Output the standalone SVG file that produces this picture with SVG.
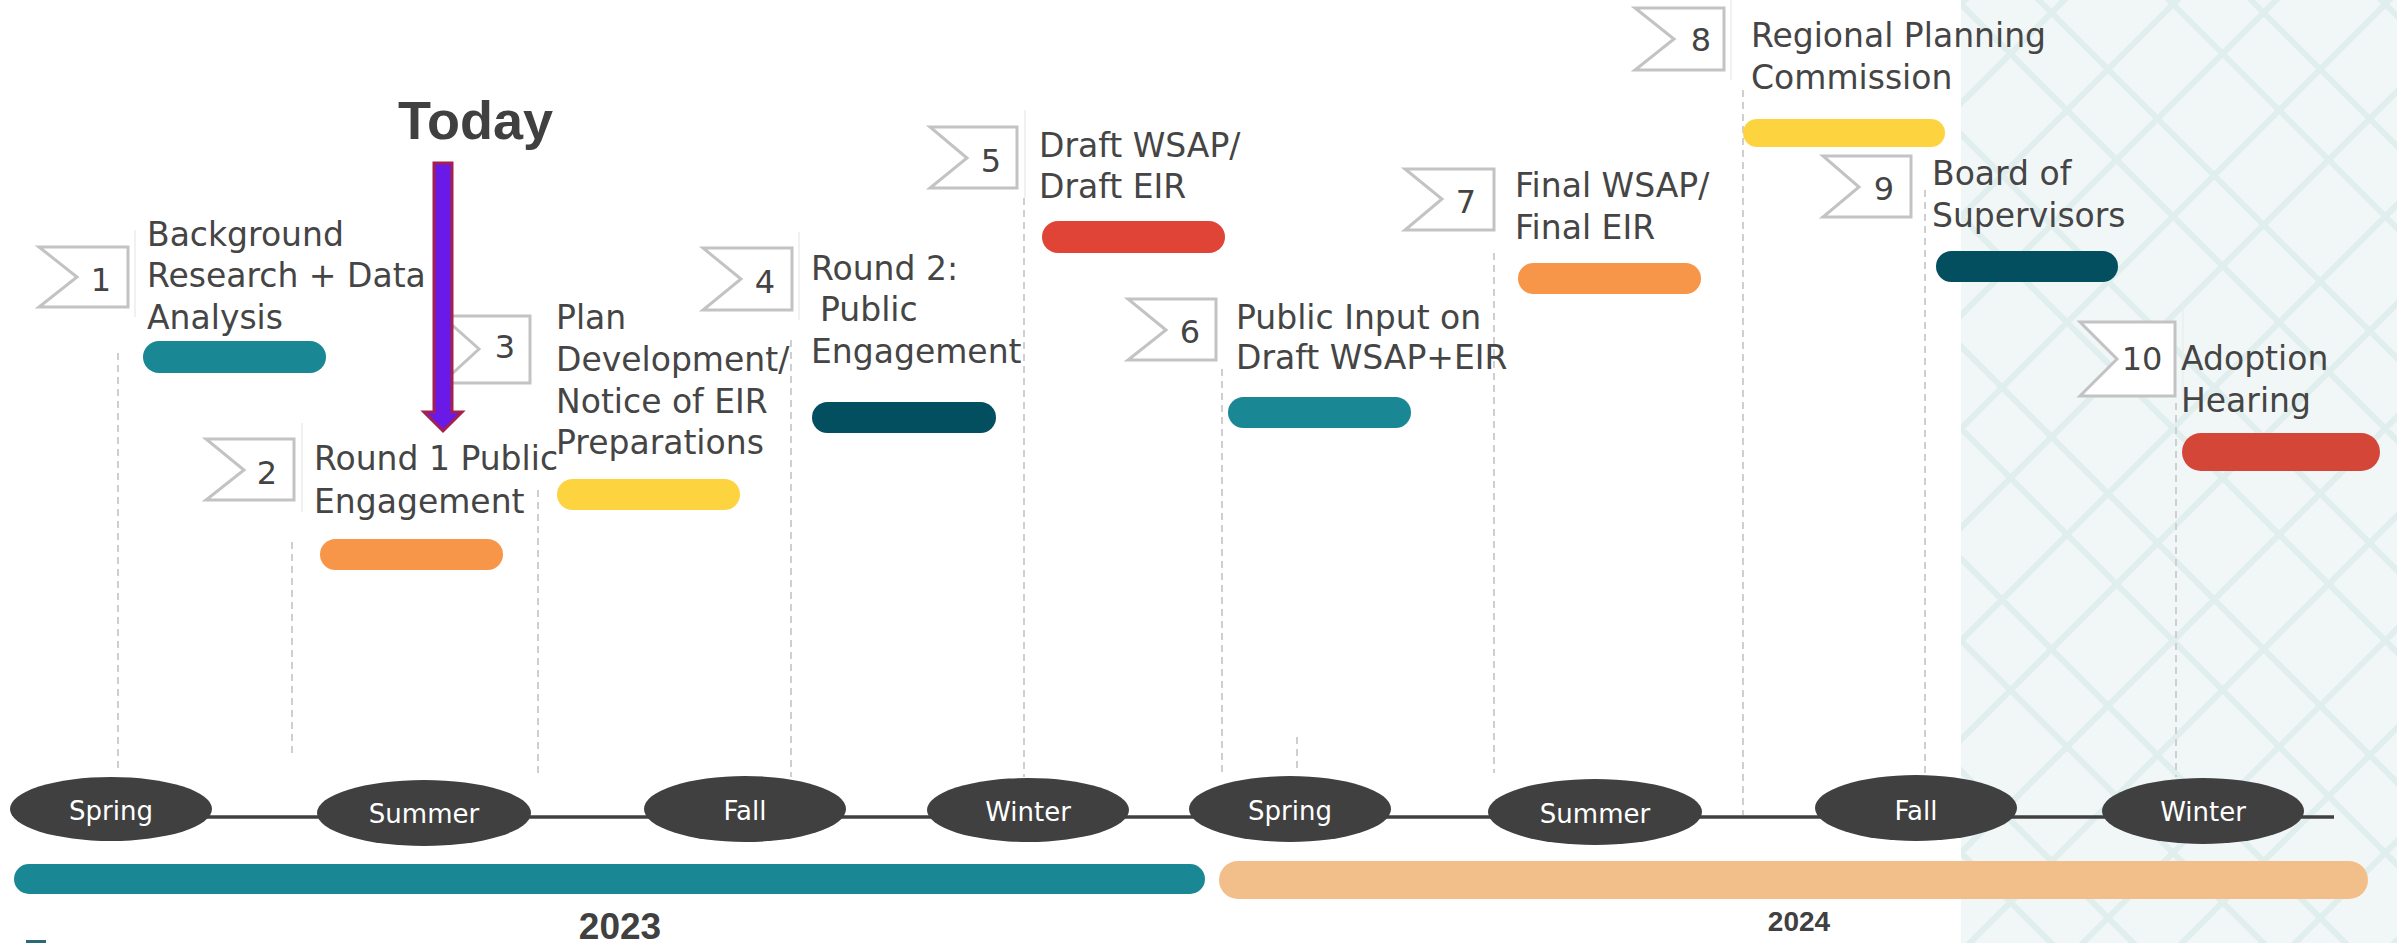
<svg xmlns="http://www.w3.org/2000/svg" width="2397" height="943" viewBox="0 0 2397 943">
<defs>
<pattern id="lattice" width="150" height="150" patternUnits="userSpaceOnUse" patternTransform="translate(1961,0) rotate(45)">
<rect x="0" y="0" width="150" height="150" fill="#f1f7f7"/>
<rect x="0" y="0" width="6" height="150" fill="#e0eeee"/>
<rect x="70" y="0" width="6" height="150" fill="#e0eeee"/>
<rect x="0" y="0" width="150" height="6" fill="#e0eeee"/>
<rect x="0" y="92" width="150" height="6" fill="#e0eeee"/>
</pattern>
</defs>
<style>
.flag{fill:#ffffff;stroke:#c3c3c3;stroke-width:3}
.num{font-family:"DejaVu Sans",sans-serif;font-size:32px;fill:#444444;text-anchor:middle}
.lbl{font-family:"DejaVu Sans",sans-serif;font-size:33px;fill:#454545}
.dash{stroke:#cfcfcf;stroke-width:2;stroke-dasharray:7 5;fill:none}
.faint{stroke:#ececec;stroke-width:1.5;fill:none}
.season{fill:#404040}
.stxt{font-family:"DejaVu Sans",sans-serif;font-size:26px;fill:#ffffff;text-anchor:middle}
.teal{fill:#1a8795}.orange{fill:#f79548}.yellow{fill:#fed340}.dteal{fill:#034e5f}.red{fill:#e04436}
</style>
<rect x="0" y="0" width="2397" height="943" fill="#ffffff"/>
<rect x="1961" y="0" width="436" height="943" fill="url(#lattice)"/>

<g id="connectors">
<line class="faint" x1="135" y1="230" x2="135" y2="317"/>
<line class="faint" x1="302" y1="423" x2="302" y2="512"/>
<line class="faint" x1="799" y1="232" x2="799" y2="320"/>
<line class="faint" x1="1025" y1="110" x2="1025" y2="198"/>
<line class="faint" x1="1731" y1="0" x2="1731" y2="80"/>
<line class="faint" x1="2183" y1="300" x2="2183" y2="400"/>
<line class="dash" x1="118" y1="353" x2="118" y2="772"/>
<line class="dash" x1="292" y1="542" x2="292" y2="755"/>
<line class="dash" x1="538" y1="490" x2="538" y2="778"/>
<line class="dash" x1="791" y1="340" x2="791" y2="777"/>
<line class="dash" x1="1024" y1="198" x2="1024" y2="777"/>
<line class="dash" x1="1222" y1="369" x2="1222" y2="773"/>
<line class="dash" x1="1297" y1="737" x2="1297" y2="773"/>
<line class="dash" x1="1494" y1="253" x2="1494" y2="773"/>
<line class="dash" x1="1743" y1="90" x2="1743" y2="815"/>
<line class="dash" x1="1925" y1="190" x2="1925" y2="775"/>
<line class="dash" x1="2176" y1="403" x2="2176" y2="777"/>
<line x1="205" y1="817" x2="2334" y2="817" stroke="#404040" stroke-width="3.5"/>
</g>

<g id="step1">
<polygon class="flag" points="39,247 128,247 128,307 39,307 77,277"/>
<text class="num" x="101" y="291">1</text>
<text class="lbl"><tspan x="147" y="246">Background</tspan><tspan x="147" y="287">Research + Data</tspan><tspan x="147" y="329">Analysis</tspan></text>
<rect class="teal" x="143" y="341" width="183" height="32" rx="16"/>
</g>

<g id="step2">
<polygon class="flag" points="206,439 294,439 294,500 206,500 244,470"/>
<text class="num" x="267" y="484">2</text>
<text class="lbl"><tspan x="314" y="470">Round 1 Public</tspan><tspan x="314" y="513">Engagement</tspan></text>
<rect class="orange" x="320" y="539" width="183" height="31" rx="15.5"/>
</g>

<g id="step3">
<polygon class="flag" points="442,316 530,316 530,383 442,383 479,349"/>
<text class="num" x="505" y="358">3</text>
<text class="lbl"><tspan x="556" y="329">Plan</tspan><tspan x="556" y="371">Development/</tspan><tspan x="556" y="413">Notice of EIR</tspan><tspan x="556" y="454">Preparations</tspan></text>
<rect class="yellow" x="557" y="479" width="183" height="31" rx="15.5"/>
</g>

<g id="step4">
<polygon class="flag" points="703,248 792,248 792,310 703,310 741,279"/>
<text class="num" x="765" y="293">4</text>
<text class="lbl"><tspan x="811" y="280">Round 2:</tspan><tspan x="820" y="321">Public</tspan><tspan x="811" y="363">Engagement</tspan></text>
<rect class="dteal" x="812" y="402" width="184" height="31" rx="15.5"/>
</g>

<g id="step5">
<polygon class="flag" points="930,127 1017,127 1017,188 930,188 967,158"/>
<text class="num" x="991" y="172">5</text>
<text class="lbl"><tspan x="1039" y="157">Draft WSAP/</tspan><tspan x="1039" y="198">Draft EIR</tspan></text>
<rect class="red" x="1042" y="221" width="183" height="32" rx="16"/>
</g>

<g id="step6">
<polygon class="flag" points="1128,299 1216,299 1216,360 1128,360 1166,330"/>
<text class="num" x="1190" y="343">6</text>
<text class="lbl"><tspan x="1236" y="329">Public Input on</tspan><tspan x="1236" y="369">Draft WSAP+EIR</tspan></text>
<rect class="teal" x="1228" y="397" width="183" height="31" rx="15.5"/>
</g>

<g id="step7">
<polygon class="flag" points="1405,169 1494,169 1494,230 1405,230 1442,199"/>
<text class="num" x="1466" y="213">7</text>
<text class="lbl"><tspan x="1515" y="197">Final WSAP/</tspan><tspan x="1515" y="239">Final EIR</tspan></text>
<rect class="orange" x="1518" y="263" width="183" height="31" rx="15.5"/>
</g>

<g id="step8">
<polygon class="flag" points="1635,8 1724,8 1724,70 1635,70 1674,39"/>
<text class="num" x="1701" y="51">8</text>
<text class="lbl"><tspan x="1751" y="47">Regional Planning</tspan><tspan x="1751" y="89">Commission</tspan></text>
<rect class="yellow" x="1743" y="119" width="202" height="28" rx="14"/>
</g>

<g id="step9">
<polygon class="flag" points="1823,156 1911,156 1911,217 1823,217 1859,187"/>
<text class="num" x="1884" y="200">9</text>
<text class="lbl"><tspan x="1932" y="185">Board of</tspan><tspan x="1932" y="227">Supervisors</tspan></text>
<rect class="dteal" x="1936" y="251" width="182" height="31" rx="15.5"/>
</g>

<g id="step10">
<polygon class="flag" points="2080,322 2175,322 2175,396 2080,396 2117,359"/>
<text class="num" x="2142" y="370">10</text>
<text class="lbl"><tspan x="2181" y="370">Adoption</tspan><tspan x="2181" y="412">Hearing</tspan></text>
<rect x="2182" y="433" width="198" height="38" rx="19" fill="#d44638"/>
</g>

<g id="today">
<text x="398" y="139" font-family="Liberation Sans, sans-serif" font-weight="bold" font-size="54" fill="#404040">Today</text>
<polygon points="434,163 452,163 452,412 462,412 443,431 424,412 434,412" fill="#6a1ae6" stroke="#a3204f" stroke-width="3"/>
</g>

<g id="seasons">
<ellipse class="season" cx="111" cy="809" rx="101" ry="32"/><text class="stxt" x="111" y="820">Spring</text>
<ellipse class="season" cx="424" cy="813" rx="107" ry="33"/><text class="stxt" x="424" y="823">Summer</text>
<ellipse class="season" cx="745" cy="809" rx="101" ry="33"/><text class="stxt" x="745" y="820">Fall</text>
<ellipse class="season" cx="1028" cy="810" rx="101" ry="32"/><text class="stxt" x="1028" y="821">Winter</text>
<ellipse class="season" cx="1290" cy="809" rx="101" ry="33"/><text class="stxt" x="1290" y="820">Spring</text>
<ellipse class="season" cx="1595" cy="812" rx="107" ry="33"/><text class="stxt" x="1595" y="823">Summer</text>
<ellipse class="season" cx="1916" cy="808" rx="101" ry="33"/><text class="stxt" x="1916" y="820">Fall</text>
<ellipse class="season" cx="2203" cy="811" rx="101" ry="33"/><text class="stxt" x="2203" y="821">Winter</text>
</g>

<g id="year2023">
<rect class="teal" x="14" y="864" width="1191" height="30" rx="15"/>
<text x="620" y="939" font-family="Liberation Sans, sans-serif" font-weight="bold" font-size="37" fill="#404040" text-anchor="middle">2023</text>
</g>
<g id="year2024">
<rect x="1219" y="861" width="1149" height="38" rx="19" fill="#f2bf8a"/>
<text x="1799" y="931" font-family="Liberation Sans, sans-serif" font-weight="bold" font-size="28" fill="#404040" text-anchor="middle">2024</text>
</g>
<g id="logo">
<rect x="26" y="940" width="20" height="3" fill="#2a6a78"/>
</g>
</svg>
